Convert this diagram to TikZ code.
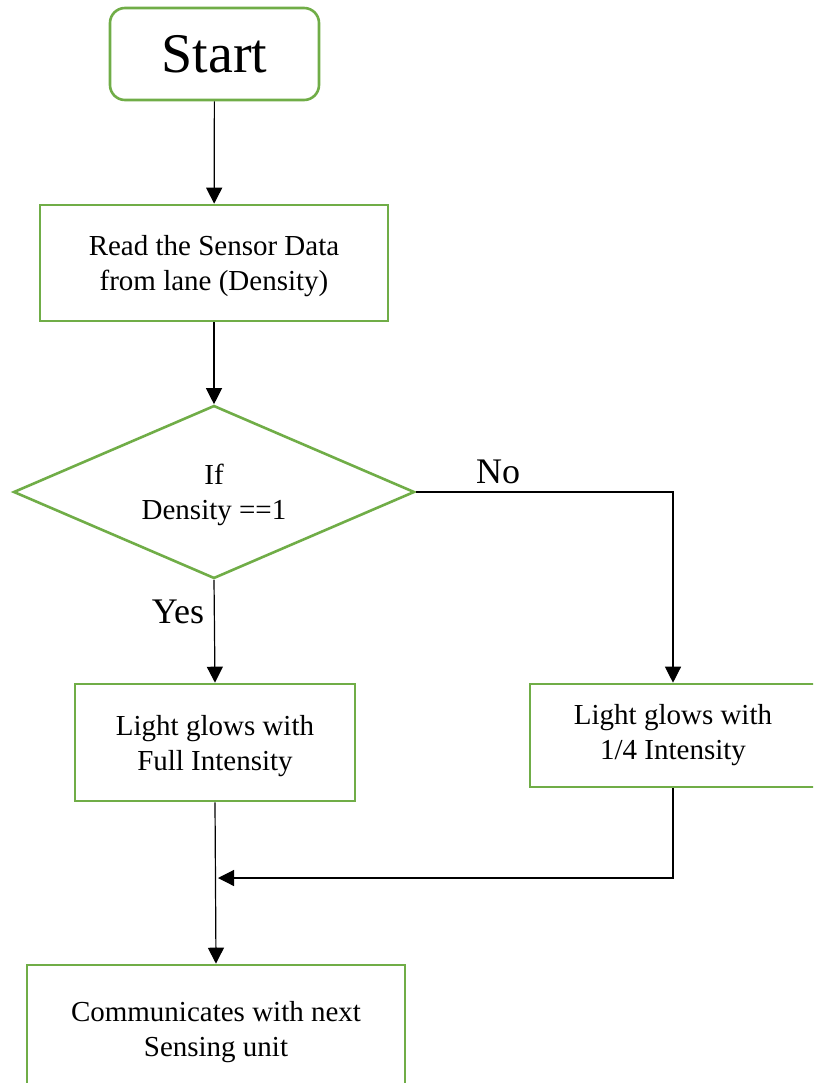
\documentclass[tikz,border=0pt]{standalone}
\usepackage{fontspec}
\setmainfont{Liberation Serif}
\usepackage{tikz}
\usetikzlibrary{arrows.meta,shapes,positioning}
\definecolor{boxgreen}{RGB}{112,173,71}
\tikzset{
    basic/.style  = {draw=boxgreen, line width=2.6pt, fill=white, inner sep=0pt, align=center,
                     font=\fontsize{29}{35}\selectfont, text depth=0pt},
    terminal/.style = {basic, rounded corners=15pt, font=\fontsize{56}{60}\selectfont},
    process/.style  = {basic, rectangle},
    decision/.style = {basic, diamond, aspect=2.32, text depth=-12pt},
    branch label/.style = {font=\fontsize{36}{40}\selectfont, inner sep=0pt},
    flow/.style = {draw, line width=1.2pt, -{Triangle[length=16pt,width=16pt]}}
}
\begin{document}
\begin{tikzpicture}[x=1pt, y=-1pt]
	\useasboundingbox (0,0) rectangle (813,1083);
	\clip (0,0) rectangle (813,1083);
		\node[terminal, minimum width=209pt, minimum height=92pt] (start) at (214.5,54) {Start};
		\node[process, minimum width=348pt, minimum height=116pt] (read) at (214,263)
			{Read the Sensor Data\\from lane (Density)};
		\node[decision, minimum width=401pt, minimum height=173pt] (dec) at (214,492)
			{If\\Density ==1};
		\node[process, minimum width=280pt, minimum height=117pt] (full) at (215,742.5)
			{Light glows with\\Full Intensity};
		\node[process, minimum width=286pt, minimum height=103pt, text depth=8pt] (quarter) at (673,735.5)
			{Light glows with\\1/4 Intensity};
		\node[process, minimum width=378pt, minimum height=128pt] (comm) at (216,1029)
			{Communicates with next\\Sensing unit};
		\node[branch label] (no) at (498,472) {No};
		\node[branch label] (yes) at (178,612) {Yes};
		\coordinate (join) at (218,878);

		\draw[flow] (start) -- (read);
		\draw[flow] (read) -- (dec);
		\draw[flow] (dec.south) -- (full.north);
		\draw[flow] (dec.east) -| (quarter.north);
		\draw[flow] (quarter.south) |- (join);
		\draw[flow] (full.south) -- (comm.north);
	\end{tikzpicture}
\end{document}
